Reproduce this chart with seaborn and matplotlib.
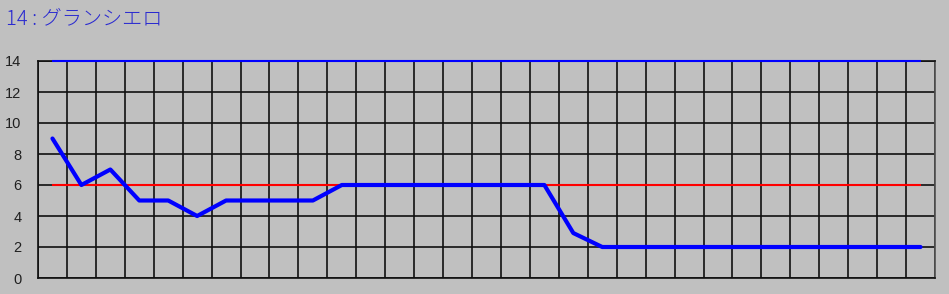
import matplotlib
matplotlib.use("Agg")
import matplotlib.pyplot as plt
import seaborn as sns
import numpy as np
import pandas as pd

title = "14 : グランシエロ"
values = [9, 6, 7, 5, 5, 4, 5, 5, 5, 5, 6, 6, 6, 6, 6, 6, 6, 6, 2.9, 2,
          2, 2, 2, 2, 2, 2, 2, 2, 2, 2, 2]
red_level = 6
top_level = 14
y_ticks = [0, 2, 4, 6, 8, 10, 12, 14]

sns.set_style("white")
plt.rcParams['font.family'] = ['Noto Sans CJK JP', 'DejaVu Sans']

bg = "#C0C0C0"
fig = plt.figure(figsize=(9.49, 2.94), dpi=100, facecolor=bg)
ax = fig.add_axes([38/949, 1 - 278/294, (935 - 38)/949, (278 - 61)/294])
ax.set_facecolor(bg)

n = len(values)
df = pd.DataFrame({"idx": np.arange(n), "val": values})

ax.set_xlim(-0.5, n - 0.5)
ax.set_ylim(0, 14)

ax.set_xticks(np.arange(-0.5, n, 1.0))
ax.set_xticklabels([])
ax.tick_params(axis='x', length=0)
ax.set_yticks(y_ticks)
ax.set_yticklabels([str(t) for t in y_ticks], family='Liberation Sans')
ax.tick_params(axis='y', length=5, width=1.2, color='#101010', labelsize=10.5,
               labelcolor='#202020', pad=7)
ax.grid(True, color='#101010', linewidth=1.2, zorder=1)
ax.set_axisbelow(True)
for s in ax.spines.values():
    s.set_color('#101010')
    s.set_linewidth(1.2)
ax.spines['right'].set_color('#505050')

ax.hlines(red_level, df.idx.iloc[0], df.idx.iloc[-1], color='#FF0000', linewidth=1.5, zorder=3)
ax.hlines(top_level, df.idx.iloc[0], df.idx.iloc[-1], color='#0000FF', linewidth=1.5, zorder=4, clip_on=False)

sns.lineplot(data=df, x="idx", y="val", ax=ax, color='#0000FF', linewidth=3, zorder=5)
ax.set_xlabel("")
ax.set_ylabel("")

fig.text(6/949, 1 - 19/294, title, color='#2A2AD0', fontsize=14.5,
         va='center', ha='left', fontweight='light')

fig.savefig("out.png", dpi=100, facecolor=bg)
